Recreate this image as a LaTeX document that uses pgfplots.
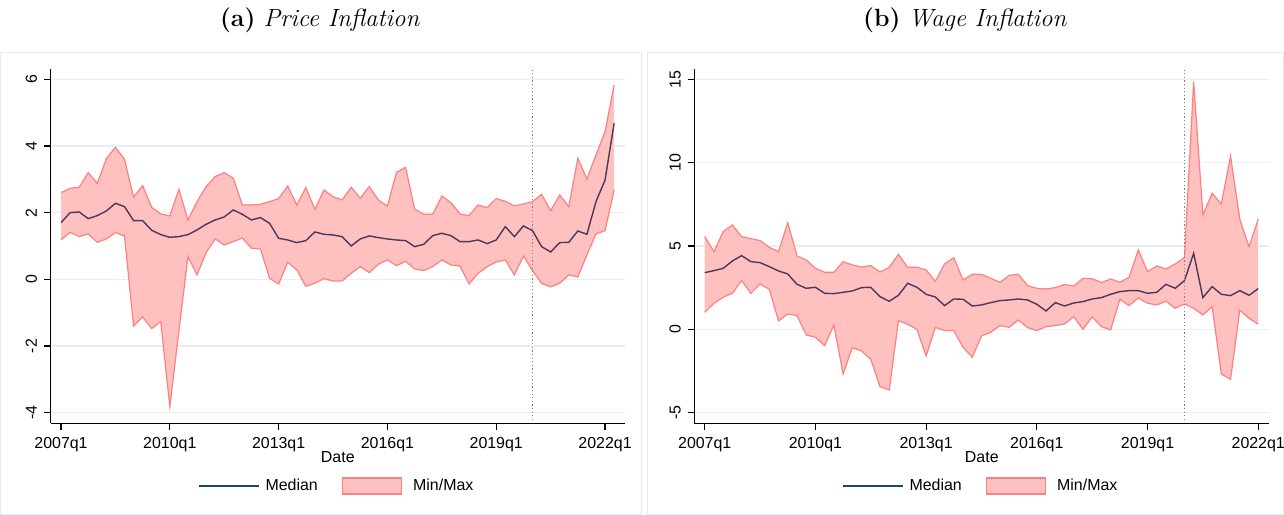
\documentclass[border=0pt]{standalone}
\usepackage{fontspec}
\newfontfamily\sans{Liberation Sans}
\usepackage{pgfplots}
\usepackage{pgfplotstable}
\pgfplotsset{compat=1.18}
\usepgfplotslibrary{fillbetween}
\definecolor{fillc}{RGB}{255,192,192}
\definecolor{edgec}{RGB}{255,128,128}
\definecolor{medc}{RGB}{72,58,92}
\definecolor{legmed}{RGB}{26,71,111}
\definecolor{gridc}{RGB}{232,239,241}
\definecolor{borderc}{RGB}{228,235,237}

\pgfplotstableread{
i lo med up
0 1.18 1.70 2.60
1 1.41 2.00 2.73
2 1.28 2.02 2.76
3 1.36 1.82 3.20
4 1.11 1.91 2.88
5 1.21 2.05 3.62
6 1.40 2.28 3.96
7 1.30 2.18 3.60
8 -1.40 1.76 2.46
9 -1.13 1.76 2.81
10 -1.48 1.47 2.16
11 -1.27 1.34 1.96
12 -3.82 1.26 1.90
13 -1.55 1.28 2.70
14 0.68 1.34 1.78
15 0.13 1.48 2.33
16 0.80 1.65 2.78
17 1.21 1.78 3.08
18 1.03 1.87 3.20
19 1.13 2.08 3.03
20 1.24 1.95 2.23
21 0.93 1.78 2.23
22 0.91 1.85 2.25
23 0.03 1.68 2.33
24 -0.14 1.23 2.42
25 0.51 1.18 2.80
26 0.28 1.10 2.23
27 -0.21 1.16 2.75
28 -0.12 1.42 2.10
29 0.02 1.35 2.68
30 -0.05 1.33 2.48
31 -0.05 1.28 2.38
32 0.18 1.00 2.76
33 0.38 1.21 2.43
34 0.20 1.30 2.78
35 0.45 1.25 2.38
36 0.58 1.21 2.20
37 0.41 1.18 3.21
38 0.54 1.16 3.36
39 0.31 0.98 2.11
40 0.26 1.05 1.95
41 0.38 1.31 1.95
42 0.58 1.38 2.50
43 0.43 1.31 2.30
44 0.40 1.13 1.96
45 -0.14 1.13 1.91
46 0.18 1.18 2.23
47 0.38 1.07 2.15
48 0.52 1.18 2.42
49 0.58 1.58 2.34
50 0.13 1.28 2.20
51 0.70 1.60 2.26
52 0.26 1.46 2.33
53 -0.12 0.98 2.55
54 -0.23 0.82 2.06
55 -0.12 1.10 2.53
56 0.13 1.11 2.18
57 0.07 1.45 3.63
58 0.73 1.35 3.01
59 1.36 2.33 3.73
60 1.46 2.98 4.43
61 2.68 4.68 5.83
}\price

\pgfplotstableread{
i lo med up
0 1.02 3.40 5.56
1 1.56 3.52 4.66
2 1.92 3.66 5.86
3 2.16 4.10 6.26
4 2.92 4.42 5.56
5 2.16 4.06 5.44
6 2.72 4.00 5.32
7 2.40 3.76 4.92
8 0.50 3.50 4.66
9 0.92 3.32 6.40
10 0.82 2.70 4.40
11 -0.34 2.46 4.16
12 -0.48 2.52 3.66
13 -0.98 2.16 3.42
14 0.26 2.14 3.42
15 -2.68 2.22 4.06
16 -1.10 2.30 3.86
17 -1.30 2.50 3.74
18 -1.80 2.52 3.82
19 -3.44 1.96 3.44
20 -3.64 1.68 3.72
21 0.52 2.04 4.50
22 0.30 2.76 3.72
23 0.00 2.52 3.72
24 -1.60 2.10 3.56
25 0.12 1.94 2.88
26 -0.08 1.42 3.92
27 -0.08 1.82 4.30
28 -1.08 1.80 2.96
29 -1.68 1.40 3.30
30 -0.40 1.46 3.30
31 -0.18 1.60 3.06
32 0.22 1.72 2.82
33 0.12 1.76 3.24
34 0.56 1.82 3.30
35 0.10 1.76 2.62
36 -0.08 1.50 2.46
37 0.16 1.10 2.42
38 0.22 1.60 2.50
39 0.32 1.40 2.68
40 0.76 1.58 2.60
41 0.00 1.66 3.06
42 0.74 1.82 3.04
43 0.16 1.90 2.80
44 -0.04 2.10 3.02
45 1.80 2.26 2.82
46 1.42 2.32 3.12
47 1.88 2.32 4.76
48 1.56 2.16 3.46
49 1.46 2.22 3.80
50 1.68 2.70 3.62
51 1.26 2.46 3.92
52 1.52 2.92 4.30
53 1.26 4.56 14.86
54 0.86 1.90 6.86
55 1.36 2.56 8.16
56 -2.68 2.10 7.52
57 -3.00 2.02 10.40
58 1.16 2.32 6.60
59 0.66 2.04 4.96
60 0.30 2.44 6.62
}\wage

\pgfplotsset{
  panel/.style={
    scale only axis,
    anchor=south west,
    height=177bp,
    axis x line*=bottom,
    axis y line*=left,
    axis line style={-, black, line width=0.6bp},
    tick style={black, line width=0.6bp},
    major tick length=3.3bp,
    tick align=outside,
    xtick={0,12,24,36,48,60},
    xticklabels={2007q1,2010q1,2013q1,2016q1,2019q1,2022q1},
    ymajorgrids,
    grid style={gridc, line width=0.6bp},
    ticklabel style={font=\sans\fontsize{8}{9.6}\selectfont},
    yticklabel style={rotate=90, anchor=south},
    xlabel={Date},
    xlabel style={font=\sans\fontsize{8}{9.6}\selectfont, at={(axis description cs:0.5,0)}, anchor=center, yshift=-16.7bp},
    legend style={at={(0.5,-0.177)}, anchor=center, draw=none, fill=none,
      legend columns=2, font=\sans\fontsize{8}{9.6}\selectfont,
      /tikz/every even column/.append style={column sep=10bp}},
    legend cell align=left,
  }
}

\begin{document}
\begin{tikzpicture}
\draw[borderc, line width=0.5bp] (0.5bp,0.5bp) rectangle (320.5bp,231.15bp);
\draw[borderc, line width=0.5bp] (323.5bp,0.5bp) rectangle (641.5bp,231.15bp);
\node[font=\fontsize{12.5}{14}\selectfont] at (160bp,247.3bp) {\textbf{(a)} \textit{Price Inflation}};
\node[font=\fontsize{12.5}{14}\selectfont] at (482.5bp,247.3bp) {\textbf{(b)} \textit{Wage Inflation}};

\begin{axis}[panel, at={(25.3bp,45.85bp)}, width=287.2bp,
  xmin=-1.15, xmax=62.2, ymin=-4.32, ymax=6.3,
  ytick={-4,-2,0,2,4,6}, yticklabels={-4,-2,0,2,4,6}]
  \addplot[name path=up, draw=none, forget plot] table[x=i, y=up] {\price};
  \addplot[name path=lo, draw=none, forget plot] table[x=i, y=lo] {\price};
  \addplot[fill=fillc, draw=none, forget plot] fill between[of=up and lo];
  \addplot[edgec, line width=0.6bp, forget plot] table[x=i, y=up] {\price};
  \addplot[edgec, line width=0.6bp, forget plot] table[x=i, y=lo] {\price};
  \addplot[medc, line width=0.7bp, forget plot] table[x=i, y=med] {\price};
  \addplot[gray, line width=0.5bp, dash pattern=on 0.6bp off 1.2bp, forget plot] coordinates {(52,-4.22) (52,6.28)};
  \addlegendimage{legend image code/.code={\draw[legmed, line width=0.7bp] (0bp,0bp) -- (30bp,0bp); \path[draw=none, fill=none] (0bp,0bp) -- (31.3bp,0bp);}}
  \addlegendentry{Median}
  \addlegendimage{legend image code/.code={\draw[draw=edgec, fill=fillc, line width=0.8bp] (0bp,-4bp) rectangle (29.5bp,4bp); \path[draw=none, fill=none] (0bp,0bp) -- (33.3bp,0bp);}}
  \addlegendentry{Min/Max}
\end{axis}

\begin{axis}[panel, at={(347.15bp,45.85bp)}, width=287.5bp,
  xmin=-1.13, xmax=61.2, ymin=-5.64, ymax=15.6,
  ytick={-5,0,5,10,15}, yticklabels={-5,0,5,10,15}]
  \addplot[name path=up, draw=none, forget plot] table[x=i, y=up] {\wage};
  \addplot[name path=lo, draw=none, forget plot] table[x=i, y=lo] {\wage};
  \addplot[fill=fillc, draw=none, forget plot] fill between[of=up and lo];
  \addplot[edgec, line width=0.6bp, forget plot] table[x=i, y=up] {\wage};
  \addplot[edgec, line width=0.6bp, forget plot] table[x=i, y=lo] {\wage};
  \addplot[medc, line width=0.7bp, forget plot] table[x=i, y=med] {\wage};
  \addplot[gray, line width=0.5bp, dash pattern=on 0.6bp off 1.2bp, forget plot] coordinates {(52,-5.44) (52,15.56)};
  \addlegendimage{legend image code/.code={\draw[legmed, line width=0.7bp] (0bp,0bp) -- (30bp,0bp); \path[draw=none, fill=none] (0bp,0bp) -- (31.3bp,0bp);}}
  \addlegendentry{Median}
  \addlegendimage{legend image code/.code={\draw[draw=edgec, fill=fillc, line width=0.8bp] (0bp,-4bp) rectangle (29.5bp,4bp); \path[draw=none, fill=none] (0bp,0bp) -- (33.3bp,0bp);}}
  \addlegendentry{Min/Max}
\end{axis}
\pgfresetboundingbox
\path (0,0) rectangle (642bp,257.5bp);
\end{tikzpicture}
\end{document}
